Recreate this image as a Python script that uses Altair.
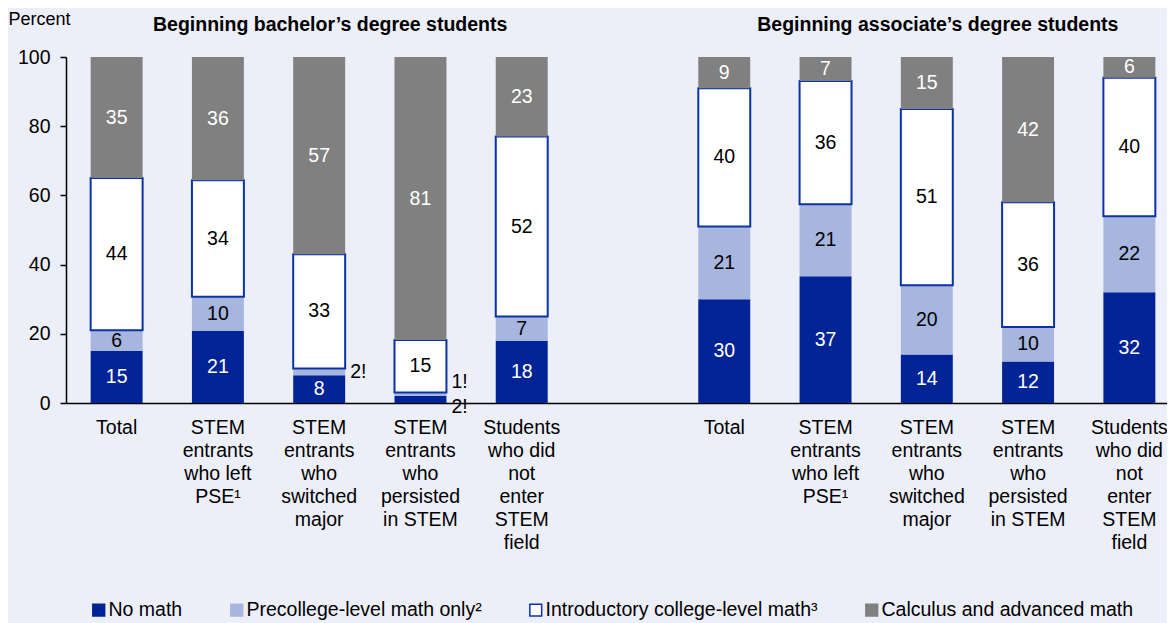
import altair as alt
import pandas as pd

# ---- data ----
categories = [
    "Total",
    "STEM|entrants|who left|PSE¹",
    "STEM|entrants|who|switched|major",
    "STEM|entrants|who|persisted|in STEM",
    "Students|who did|not|enter|STEM|field",
]
segments = [
    "No math",
    "Precollege-level math only²",
    "Introductory college-level math³",
    "Calculus and advanced math",
]
bachelor_no_math = [15, 21, 8, 2, 18]
bachelor_precollege = [6, 10, 2, 1, 7]
bachelor_intro = [44, 34, 33, 15, 52]
bachelor_calculus = [35, 36, 57, 81, 23]

associate_no_math = [30, 37, 14, 12, 32]
associate_precollege = [21, 21, 20, 10, 22]
associate_intro = [40, 36, 51, 36, 40]
associate_calculus = [9, 7, 15, 42, 6]

group_titles = ["Beginning bachelor’s degree students", "Beginning associate’s degree students"]

fill_colors = ["#002395", "#A7B6DF", "#FFFFFF", "#808080"]
stroke_colors = ["#002395", "#A7B6DF", "#0A33A6", "#808080"]

# ---- build table ----
groups = {
    "B": [bachelor_no_math, bachelor_precollege, bachelor_intro, bachelor_calculus],
    "A": [associate_no_math, associate_precollege, associate_intro, associate_calculus],
}
rows = []
domain = []
for g in ["B", "G", "A"]:
    if g == "G":
        domain.append("G0|")
        continue
    series = groups[g]
    for i, cat in enumerate(categories):
        key = f"{g}{i}|{cat}"
        domain.append(key)
        vals = [s[i] for s in series]
        total = sum(vals)
        cum = 0
        for j, v in enumerate(vals):
            lo = cum / total * 100
            cum += v
            hi = cum / total * 100
            rows.append(dict(key=key, segment=segments[j], order=j, value=v,
                             lo=lo, hi=hi, mid=(lo + hi) / 2))
df = pd.DataFrame(rows)
titles_df = pd.DataFrame({"key": [domain[2], domain[8]], "title": group_titles, "lo": [0, 0]})

FONT = "Arial, Liberation Sans, sans-serif"

xscale = alt.Scale(domain=domain, range=[0, 1114], paddingInner=0.487, paddingOuter=0.2435)
yscale = alt.Scale(domain=[0, 100], nice=False)

xaxis = alt.Axis(labelExpr="slice(split(datum.value, '|'), 1)", labelAngle=0,
                 ticks=False, labelFontSize=19.5, labelLineHeight=23,
                 labelPadding=15, labelBaseline="top", labelColor="black",
                 domainColor="black", domainWidth=1.5, labelFont=FONT,
                 labelLimit=300, title=None)
yaxis = alt.Axis(values=[0, 20, 40, 60, 80, 100], grid=False, tickSize=6,
                 tickColor="black", tickWidth=1.5, domainColor="black", domainWidth=1.5,
                 labelFontSize=19.5, labelPadding=10, labelColor="black",
                 labelFont=FONT, title="Percent", titleAngle=0,
                 titleAlign="left", titleBaseline="alphabetic",
                 titleX=-58, titleY=-33, titleFontSize=18,
                 titleFontWeight="normal", titleFont=FONT, titleColor="black")

X = alt.X("key:N", scale=xscale, sort=domain, axis=xaxis, title=None)

legend = alt.Legend(
    orient="none", legendX=23, legendY=543, direction="horizontal", title=None,
    symbolType="square", symbolSize=140, symbolStrokeWidth=1.5,
    labelFontSize=19.5, labelFont=FONT, labelColor="black",
    columnPadding=44, labelOffset=0, labelLimit=400,
)

base = alt.Chart(df)

bars = base.mark_bar().encode(
    x=X,
    y=alt.Y("lo:Q", scale=yscale, axis=yaxis, title="Percent"),
    y2="hi:Q",
    fill=alt.Fill("segment:N", scale=alt.Scale(domain=segments, range=fill_colors), legend=legend),
    stroke=alt.Stroke("segment:N", scale=alt.Scale(domain=segments, range=stroke_colors), legend=legend),
    strokeWidth=alt.condition("datum.order == 2", alt.value(2), alt.value(0)),
    order=alt.Order("order:Q"),
)

YM = alt.Y("mid:Q", scale=yscale, axis=yaxis, title="Percent")

text_color = alt.condition("datum.order == 0 || datum.order == 3", alt.value("white"), alt.value("black"))

labels = base.transform_filter("datum.value >= 3").mark_text(
    fontSize=19.5, font=FONT, baseline="middle", align="center"
).encode(
    x=X,
    y=YM,
    text=alt.Text("value:Q"),
    color=text_color,
)

def small(key_prefix, order, dy):
    return base.transform_filter(
        f"indexof(datum.key, '{key_prefix}') == 0 && datum.order == {order}"
    ).transform_calculate(lab="datum.value + '!'").mark_text(
        fontSize=19.5, font=FONT, baseline="middle", align="left", dx=31, dy=dy, color="black"
    ).encode(
        x=X,
        y=YM,
        text="lab:N",
    )

small_labels = small("B2|", 1, 0) + small("B3|", 1, -12) + small("B3|", 0, 7)

titles = alt.Chart(titles_df).mark_text(
    fontSize=19.5, fontWeight="bold", font=FONT, dx=11, baseline="middle", color="black"
).encode(
    x=X,
    y=alt.value(-32),
    text="title:N",
)

chart = alt.layer(bars, labels, small_labels, titles).properties(
    width=1101, height=346,
    autosize=alt.AutoSizeParams(type="none"),
    padding={"left": 58, "top": 49, "right": 0, "bottom": 220},
    background="#EDEFF8",
).configure(font=FONT).configure_view(stroke=None)

chart.save("out.html", embed_options={"renderer": "svg", "actions": False})
